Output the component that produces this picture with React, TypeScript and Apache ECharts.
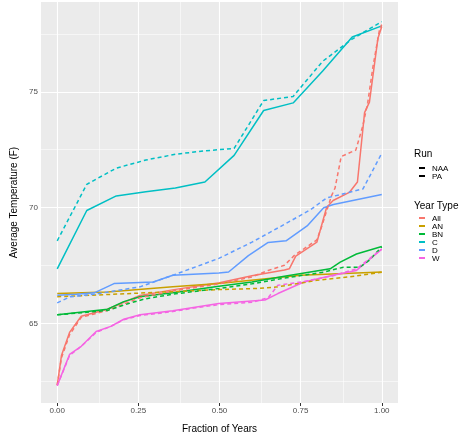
import React, { useEffect, useRef } from "react";
import * as echarts from "echarts";

const xTicks = [0, 0.25, 0.5, 0.75, 1.0];
const yTicks = [65, 70, 75];
const xMinorGrid = [0.125, 0.375, 0.625, 0.875];
const yMinorGrid = [62.5, 67.5, 72.5, 77.5];

const runNames = ["NAA", "PA"];
const yearTypes = ["All", "AN", "BN", "C", "D", "W"];
const typeColors = ["#F8766D", "#C9A000", "#00BA38", "#00BFC4", "#619CFF", "#F564E3"];

const allNaaX = [0, 0.013, 0.038, 0.074, 0.114, 0.155, 0.255, 0.36, 0.5, 0.6, 0.7, 0.715, 0.735, 0.8, 0.83, 0.85, 0.9, 0.925, 0.947, 0.962, 0.988, 1.0];
const allNaaY = [62.32, 63.6, 64.6, 65.3, 65.45, 65.6, 66.2, 66.45, 66.75, 67.05, 67.3, 67.35, 67.9, 68.5, 70.0, 70.3, 70.65, 71.1, 74.1, 74.55, 77.3, 77.82];
const allPaX = [0, 0.013, 0.038, 0.074, 0.114, 0.155, 0.255, 0.36, 0.5, 0.6, 0.65, 0.7, 0.73, 0.8, 0.813, 0.845, 0.856, 0.875, 0.92, 0.942, 0.957, 0.973, 0.993, 1.0];
const allPaY = [62.32, 63.5, 64.5, 65.25, 65.4, 65.55, 66.1, 66.4, 66.7, 67.0, 67.28, 67.5, 67.92, 68.6, 69.1, 70.5, 70.84, 72.2, 72.48, 73.55, 74.55, 76.1, 77.68, 77.9];

const anNaaX = [0, 0.155, 0.356, 0.498, 0.75, 1.0];
const anNaaY = [66.28, 66.35, 66.57, 66.71, 67.07, 67.21];
const anPaX = [0, 0.255, 0.498, 0.62, 0.68, 0.8, 0.9, 1.0];
const anPaY = [66.14, 66.3, 66.45, 66.5, 66.57, 66.85, 67.0, 67.2];

const bnNaaX = [0, 0.155, 0.205, 0.255, 0.356, 0.498, 0.6, 0.7, 0.841, 0.872, 0.922, 1.0];
const bnNaaY = [65.36, 65.6, 65.93, 66.14, 66.31, 66.6, 66.78, 67.03, 67.35, 67.64, 67.99, 68.31];
const bnPaX = [0, 0.155, 0.22, 0.27, 0.356, 0.498, 0.6, 0.7, 0.82, 0.882, 0.932, 0.96, 1.0];
const bnPaY = [65.36, 65.55, 65.85, 66.05, 66.25, 66.5, 66.7, 66.95, 67.2, 67.42, 67.42, 67.7, 68.3];

const cX = [0, 0.091, 0.182, 0.273, 0.364, 0.455, 0.545, 0.636, 0.727, 0.818, 0.909, 1.0];
const cNaaY = [67.35, 69.87, 70.5, 70.68, 70.84, 71.1, 72.25, 74.19, 74.52, 75.9, 77.37, 77.85];
const cPaY = [68.56, 71.0, 71.7, 72.05, 72.3, 72.45, 72.55, 74.62, 74.8, 76.32, 77.28, 78.03];

const dNaaX = [0, 0.06, 0.114, 0.175, 0.296, 0.356, 0.498, 0.528, 0.589, 0.65, 0.705, 0.77, 0.821, 0.851, 1.0];
const dNaaY = [66.21, 66.25, 66.31, 66.71, 66.78, 67.07, 67.17, 67.21, 67.92, 68.49, 68.56, 69.2, 69.99, 70.13, 70.56];
const dPaX = [0, 0.04, 0.114, 0.255, 0.356, 0.498, 0.6, 0.7, 0.78, 0.83, 0.932, 0.942, 1.0];
const dPaY = [65.88, 66.14, 66.25, 66.57, 67.07, 67.8, 68.5, 69.27, 69.9, 70.41, 70.77, 70.8, 72.34];

const wNaaX = [0, 0.038, 0.074, 0.12, 0.165, 0.205, 0.255, 0.356, 0.498, 0.64, 0.68, 0.76, 0.85, 0.922, 1.0];
const wNaaY = [62.3, 63.65, 64.0, 64.64, 64.86, 65.17, 65.36, 65.54, 65.85, 66.0, 66.28, 66.78, 67.07, 67.28, 68.2];
const wPaX = [0, 0.038, 0.074, 0.12, 0.165, 0.205, 0.255, 0.356, 0.42, 0.498, 0.6, 0.65, 0.68, 0.76, 0.85, 0.922, 1.0];
const wPaY = [62.3, 63.6, 64.0, 64.6, 64.86, 65.15, 65.33, 65.5, 65.65, 65.8, 65.9, 66.1, 66.64, 66.8, 67.05, 67.35, 68.2];

const naaSeries = [
  [allNaaX, allNaaY],
  [anNaaX, anNaaY],
  [bnNaaX, bnNaaY],
  [cX, cNaaY],
  [dNaaX, dNaaY],
  [wNaaX, wNaaY],
];
const paSeries = [
  [allPaX, allPaY],
  [anPaX, anPaY],
  [bnPaX, bnPaY],
  [cX, cPaY],
  [dPaX, dPaY],
  [wPaX, wPaY],
];

const FONT = "Liberation Sans, Arial, sans-serif";

function zip(xs: number[], ys: number[]) {
  return xs.map((x, i) => [x, ys[i]]);
}

export default function App() {
  const ref = useRef<HTMLDivElement>(null);
  useEffect(() => {
    if (!ref.current) return;
    const chart = echarts.init(ref.current, undefined, { renderer: "svg" });

    const series: any[] = [];
    const gridLines: any[] = [];
    xTicks.forEach((v) => gridLines.push({ xAxis: v, lineStyle: { color: "#FFFFFF", width: 1.1, type: "solid" } }));
    xMinorGrid.forEach((v) => gridLines.push({ xAxis: v, lineStyle: { color: "#FFFFFF", width: 0.55, type: "solid" } }));
    yTicks.forEach((v) => gridLines.push({ yAxis: v, lineStyle: { color: "#FFFFFF", width: 1.1, type: "solid" } }));
    yMinorGrid.forEach((v) => gridLines.push({ yAxis: v, lineStyle: { color: "#FFFFFF", width: 0.55, type: "solid" } }));
    series.push({
      name: "__grid",
      type: "line",
      data: [],
      z: 1,
      markLine: {
        z: 1,
        silent: true,
        symbol: "none",
        label: { show: false },
        emphasis: { disabled: true },
        animation: false,
        data: gridLines,
      },
    });

    yearTypes.forEach((t, i) => {
      series.push({
        name: t,
        type: "line",
        data: zip(naaSeries[i][0], naaSeries[i][1]),
        showSymbol: false,
        symbol: "none",
        z: 3,
        color: typeColors[i],
        lineStyle: { width: 1.5, color: typeColors[i], type: "solid" },
      });
    });
    yearTypes.forEach((t, i) => {
      series.push({
        name: t,
        type: "line",
        data: zip(paSeries[i][0], paSeries[i][1]),
        showSymbol: false,
        symbol: "none",
        z: 3,
        color: typeColors[i],
        lineStyle: { width: 1.5, color: typeColors[i], type: [4, 3] },
      });
    });
    series.push({ name: "NAA", type: "line", data: [], color: "#000", lineStyle: { color: "#000", width: 1.4 } });
    series.push({ name: "PA", type: "line", data: [], color: "#000", lineStyle: { color: "#000", width: 1.4, type: [4, 3] } });

    chart.setOption({
      animation: false,
      textStyle: { fontFamily: FONT },
      grid: {
        left: 36,
        right: 68,
        top: 2,
        bottom: 31,
        show: true,
        backgroundColor: "#EBEBEB",
        borderWidth: 0,
        containLabel: false,
      },
      xAxis: {
        type: "value",
        min: -0.05,
        max: 1.05,
        name: "Fraction of Years",
        nameLocation: "middle",
        nameGap: 20,
        nameTextStyle: { fontSize: 10, color: "#000", fontFamily: FONT },
        axisLine: { show: false },
        axisTick: { show: true, length: 3, lineStyle: { color: "#333" }, customValues: xTicks },
        axisLabel: {
          customValues: xTicks,
          fontSize: 8,
          color: "#4D4D4D",
          margin: 3,
          fontFamily: FONT,
          formatter: (v: number) => v.toFixed(2),
        },
        splitLine: { show: false },
      },
      yAxis: {
        type: "value",
        min: 61.55,
        max: 78.88,
        name: "Average Temperature (F)",
        nameLocation: "middle",
        nameGap: 23,
        nameTextStyle: { fontSize: 10, color: "#000", fontFamily: FONT },
        axisLine: { show: false },
        axisTick: { show: true, length: 3, lineStyle: { color: "#333" }, customValues: yTicks },
        axisLabel: {
          customValues: yTicks,
          fontSize: 8,
          color: "#4D4D4D",
          margin: 3,
          fontFamily: FONT,
          formatter: (v: number) => String(v),
        },
        splitLine: { show: false },
      },
      legend: [
        {
          data: runNames,
          orient: "vertical",
          left: 414,
          top: 159,
          itemWidth: 6,
          itemHeight: 2,
          itemGap: 0,
          icon: "rect",
          selectedMode: false,
          textStyle: { fontSize: 8, lineHeight: 8, color: "#000", fontFamily: FONT, padding: [0, 0, 0, 2] },
        },
        {
          data: yearTypes,
          orient: "vertical",
          left: 414,
          top: 209,
          itemWidth: 6,
          itemHeight: 2,
          itemGap: 0,
          icon: "rect",
          selectedMode: false,
          textStyle: { fontSize: 8, lineHeight: 8, color: "#000", fontFamily: FONT, padding: [0, 0, 0, 2] },
        },
      ],
      graphic: [
        { type: "text", left: 414, top: 148, style: { text: "Run", fontSize: 10, fill: "#000", fontFamily: FONT } },
        { type: "text", left: 414, top: 200, style: { text: "Year Type", fontSize: 10, fill: "#000", fontFamily: FONT } },
      ],
      series,
    });
    return () => chart.dispose();
  }, []);
  return <div ref={ref} style={{ position: "fixed", left: 0, top: 0, width: 466, height: 438 }} />;
}
